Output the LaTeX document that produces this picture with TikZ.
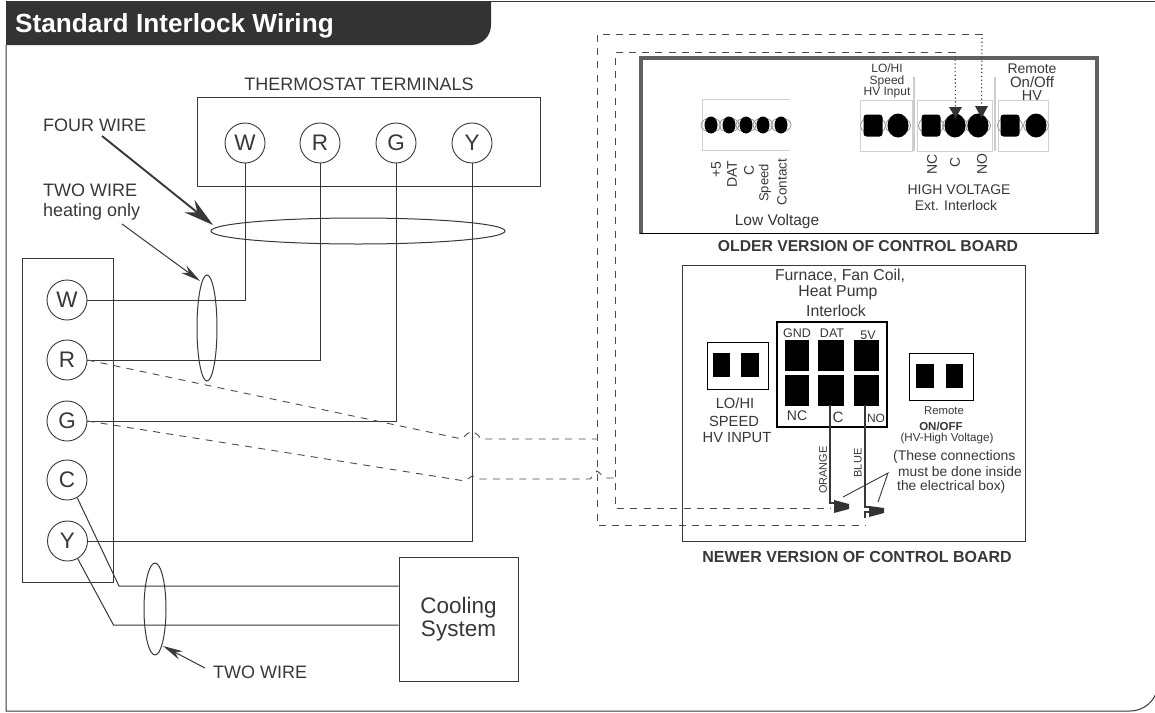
\documentclass[tikz,border=0pt]{standalone}
\usepackage{fontspec}
\setmainfont{Liberation Sans}
\usetikzlibrary{arrows.meta,shapes.geometric}
\newcommand{\fsz}[1]{\fontsize{#1}{#1}\selectfont}
\definecolor{ink}{gray}{0.22}
\definecolor{hdr}{gray}{0.2}
\tikzset{
 wire/.style={draw=ink,line width=1pt,line join=miter},
 dashw/.style={draw=ink!90,line width=0.9pt,dash pattern=on 7pt off 6.3pt},
 dotw/.style={draw=ink,line width=1.1pt,dash pattern=on 1.2pt off 2.6pt},
 boxx/.style={draw=ink,line width=1pt,fill=none},
 term/.style={circle,draw=ink,line width=0.9pt,minimum size=40pt,inner sep=0pt,text=ink,font=\fsz{22.5}},
 lbl/.style={text=ink,inner sep=0pt,align=center},
 lblL/.style={text=ink,inner sep=0pt,anchor=west},
 sq/.style={fill=black,draw=none},
 pin/.style={ellipse,fill=black,draw=none,inner sep=0pt},
 pinsq/.style={rectangle,rounded corners=3pt,fill=black,draw=none,inner sep=0pt},
 ring/.style={ellipse,draw=black!40,line width=0.8pt,inner sep=0pt},
 lvb/.style={draw=black!18,line width=1pt},
 ptr/.style={draw=ink,line width=1pt,-{Stealth[length=20pt,width=9pt]}},
 plug/.style={fill=hdr,draw=none},
}
\begin{document}
\begin{tikzpicture}[x=1pt,y=-1pt]
\useasboundingbox (0,0) rectangle (1155,712);
% frame and header
\fill[white] (0,0) rectangle (1155,712);
\draw[ink,line width=1pt] (6,45) -- (6,711) -- (1130,711) arc[start angle=90,end angle=25,radius=28];
\draw[ink,line width=1pt] (480,1) -- (1155,1);
\fill[hdr] (6,1) -- (491,1) -- (491,25) arc[start angle=0,end angle=90,radius=20] -- (6,45) -- cycle;
\node[anchor=west,inner sep=0pt,text=white,font=\fsz{26.2}\bfseries] (title) at (15,26) {Standard Interlock Wiring};
% thermostat
\node[lbl,font=\fsz{18}] (thlabel) at (359,84) {THERMOSTAT TERMINALS};
\draw[boxx] (197,97) rectangle (540,186);
\node[term] (tW) at (245,143) {W};
\node[term] (tR) at (320,143) {R};
\node[term] (tG) at (396,143) {G};
\node[term] (tY) at (472,143) {Y};
% left block
\draw[boxx] (22,258) rectangle (113.5,582);
\node[term] (lW) at (67,300) {W};
\node[term] (lR) at (67,360) {R};
\node[term] (lG) at (67,421) {G};
\node[term] (lC) at (67,480) {C};
\node[term] (lY) at (67.5,541) {Y};
% wires
\draw[wire] (lW.east) -| (tW.south);
\draw[wire] (lR.east) -| (tR.south);
\draw[wire] (lG.east) -| (tG.south);
\draw[wire] (lY.east) -| (tY.south);
% cooling
\node[draw=ink,line width=1pt,minimum width=119pt,minimum height=124pt,inner sep=0pt,text=ink,align=center,font=\fsz{22.5}] (cool) at (458.5,619.5) {Cooling\\[0.5pt]System};
\coordinate (cwa) at (cool.west |- 0,586);
\coordinate (cwb) at (cool.west |- 0,625);
\draw[wire] (lC.300) -- (119,586) -- (cwa);
\draw[wire] (lY.300) -- (113.5,625) -- (cwb);
% bundles
\node[ellipse,draw=ink,line width=1pt,minimum width=294pt,minimum height=26pt,inner sep=0pt] (eFour) at (358,231) {};
\node[ellipse,draw=ink,line width=1pt,minimum width=20pt,minimum height=106pt,inner sep=0pt] (eHeat) at (207,328) {};
\node[ellipse,draw=ink,line width=1pt,minimum width=22pt,minimum height=92pt,inner sep=0pt] (eCool) at (155,609) {};
% labels
\node[lblL,font=\fsz{18}] (fw) at (43,125) {FOUR WIRE};
\node[lblL,font=\fsz{18}] (tw) at (43,190) {TWO WIRE};
\node[lblL,font=\fsz{18}] (ho) at (43,211.5) {heating only};
\node[lblL,font=\fsz{18}] (tw2) at (213,672) {TWO WIRE};
\coordinate (fws) at (102,136);
\coordinate (fwt) at (213,225);
\coordinate (hos) at (122,224);
\coordinate (hot) at (200,281);
\coordinate (tw2s) at (205,668);
\coordinate (tw2t) at (163,646);
\draw[draw=ink,line width=1.9pt,-{Stealth[length=30pt,width=16pt]}] (fws) -- (fwt);
\draw[ptr] (hos) -- (hot);
\draw[ptr] (tw2s) -- (tw2t);
% dashed routes
\coordinate (nC) at (830,508);
\coordinate (nO) at (865,525);
\draw[dashw] (lR.east) -- (462,439) -- (467,434) -- (472,431) -- (478,435) -- (481,439) -- (597,439);
\draw[dashw] (lG.east) -- (465,481) -- (472,476) -- (476,477) -- (480,479) -- (590,479) -- (597,471) -- (603,476) -- (607,478) -- (615,478);
\coordinate (dotC) at (955,52);
\coordinate (dotO) at (982,34);
\draw[dashw] (dotO) -- (597,34) -- (597,525) -- (nO);
\draw[dashw] (dotC) -- (615,52) -- (615,508) -- (nC);
% older board
\draw[ink!80!white,line width=3.2pt] (641,234) -- (641,58) -- (1097,58) -- (1097,234);
\draw[black,line width=1.2pt] (640,233.5) -- (1098,233.5);
\node[lbl,font=\fsz{15.7}\bfseries] (oldt) at (868,246) {OLDER VERSION OF CONTROL BOARD};
% low voltage block
\draw[lvb] (790,99) -- (702,99) -- (702,150) -- (790,150);
\foreach \n/\x in {a/711,b/729,c/746,d/763,e/781}{
 \node[ring,minimum width=20pt,minimum height=14pt] (lr\n) at (\x,125) {};
 \node[pin,minimum width=13pt,minimum height=17pt] (lv\n) at (\x,125) {};
}
% hv blocks
\draw[lvb] (860,151) rectangle (912,100);
\draw[lvb] (917,151) rectangle (992,100);
\draw[lvb] (998,151) rectangle (1048,100);
\draw[black!20,line width=1.8pt] (914,77) -- (914,151);
\draw[black!20,line width=1.8pt] (995,77) -- (995,151);
\foreach \n/\x in {p/873,q/898,r/931,s/955,t/978,u/1010,v/1036}{
 \node[ring,minimum width=25pt,minimum height=18pt] (hr\n) at (\x,125.5) {};
}
\foreach \n/\x in {q/898,s/955,t/978,v/1036}{
 \node[pin,minimum width=21pt,minimum height=24pt] (hv\n) at (\x,125.5) {};
}
\foreach \n/\x in {p/873,r/931,u/1010}{
 \node[pinsq,minimum width=19pt,minimum height=22pt] (hv\n) at (\x,125.5) {};
}
\fill[hdr] (949,107) -- (962,107) -- (955.5,118) -- cycle;
\fill[hdr] (975,106) -- (988,106) -- (981.5,118) -- cycle;
\coordinate (arC) at (955.5,107);
\coordinate (arO) at (981.5,106);
\draw[dotw] (dotC) -- (arC);
\draw[dotw] (dotO) -- (arO);
% older texts
\node[lbl,rotate=90,font=\fsz{14}] (o1) at (716,170) {+5};
\node[lbl,rotate=90,font=\fsz{14}] (o2) at (732,174) {DAT};
\node[lbl,rotate=90,font=\fsz{14}] (o3) at (749,170) {C};
\node[lbl,rotate=90,font=\fsz{13}] (o4) at (765,183) {Speed};
\node[lbl,rotate=90,font=\fsz{13.5}] (o5) at (782,182) {Contact};
\node[lbl,font=\fsz{15.5}] (o6) at (777,221) {Low Voltage};
\node[lbl,rotate=90,font=\fsz{14}] (o7) at (932,164) {NC};
\node[lbl,rotate=90,font=\fsz{14}] (o8) at (955,162) {C};
\node[lbl,rotate=90,font=\fsz{14}] (o9) at (982,164) {NO};
\node[lbl,font=\fsz{14}] (o10) at (959,190) {HIGH VOLTAGE};
\node[lbl,font=\fsz{14}] (o11) at (956,205) {Ext. Interlock};
\node[lbl,font=\fsz{12}] (o12) at (887,68) {LO/HI};
\node[lbl,font=\fsz{12}] (o13) at (887,81) {Speed};
\node[lbl,font=\fsz{12}] (o14) at (887,93) {HV Input};
\node[lbl,font=\fsz{14}] (o15) at (1032,69) {Remote};
\node[lbl,font=\fsz{15}] (o16) at (1032,82) {On/Off};
\node[lbl,font=\fsz{14.5}] (o17) at (1032,96) {HV};
% newer board
\draw[boxx] (682.5,265) rectangle (1025,541);
\node[lbl,font=\fsz{16}\bfseries] (newt) at (857,557) {NEWER VERSION OF CONTROL BOARD};
\node[lbl,font=\fsz{15.8}] (n1) at (840,276) {Furnace, Fan Coil,};
\node[lbl,font=\fsz{15.8}] (n2) at (838,293) {Heat Pump};
\node[lbl,font=\fsz{15.8}] (n3) at (836,311) {Interlock};
\draw[black,line width=1.3pt] (777,322) rectangle (887,427);
\fill[sq] (785,340) rectangle (809,371);
\fill[sq] (818,340) rectangle (844,371);
\fill[sq] (854,340) rectangle (879,371);
\fill[sq] (785,375) rectangle (809,406);
\fill[sq] (818,375) rectangle (844,406);
\fill[sq] (854,375) rectangle (879,406);
\coordinate (pC) at (830,405);
\coordinate (pO) at (865,405);
\node[lbl,font=\fsz{12.5}] (n4) at (797,333) {GND};
\node[lbl,font=\fsz{12.5}] (n5) at (832,333) {DAT};
\node[lbl,font=\fsz{12.5}] (n6) at (868,335) {5V};
\node[lbl,font=\fsz{14}] (n7) at (797,416) {NC};
\node[lbl,font=\fsz{15}] (n8) at (838,417) {C};
\node[lbl,font=\fsz{12}] (n9) at (876,418) {NO};
% LO/HI box
\draw[black,line width=1pt] (707,342) rectangle (768,389);
\fill[sq] (713,353) rectangle (730,377);
\fill[sq] (741,353) rectangle (759,377);
\node[lbl,font=\fsz{14.7}] (n10) at (735,403) {LO/HI};
\node[lbl,font=\fsz{14.7}] (n11) at (734,421) {SPEED};
\node[lbl,font=\fsz{14.7}] (n12) at (737,438) {HV INPUT};
% Remote box
\draw[black,line width=1pt] (909,353) rectangle (973,400);
\fill[sq] (916,364) rectangle (934,388);
\fill[sq] (946,364) rectangle (963,388);
\node[lbl,font=\fsz{11.3}] (n13) at (944,411) {Remote};
\node[lbl,font=\fsz{11.5}\bfseries] (n14) at (941,426) {ON/OFF};
\node[lbl,font=\fsz{11.6}] (n15) at (947,438) {(HV-High Voltage)};
\node[lblL,font=\fsz{14}] (n16) at (893,457) {(These connections};
\node[lblL,font=\fsz{13.8}] (n17) at (898,472) {must be done inside};
\node[lblL,font=\fsz{13.8}] (n18) at (897,487) {the electrical box)};
\node[lbl,rotate=90,font=\fsz{11}] (n19) at (823,470) {ORANGE};
\node[lbl,rotate=90,font=\fsz{11}] (n20) at (858,463) {BLUE};
% plugs and wires
\draw[draw=ink,line width=1.2pt] (pC) -- (830,503) -- (835,503);
\draw[draw=ink,line width=1.2pt] (pO) -- (865,507) -- (870,507);
\draw[draw=ink,line width=1.2pt] (865,518) -- (865,512) -- (870,512);
\fill[plug] (834,500) -- (849,504) -- (849,509) -- (834,513) -- cycle;
\fill[plug] (869,506) -- (884,508) -- (884,513) -- (869,517) -- cycle;
\coordinate (cn) at (888,473);
\draw[draw=ink,line width=0.9pt] (843,497) -- (cn) -- (878,502);
\end{tikzpicture}
\end{document}
